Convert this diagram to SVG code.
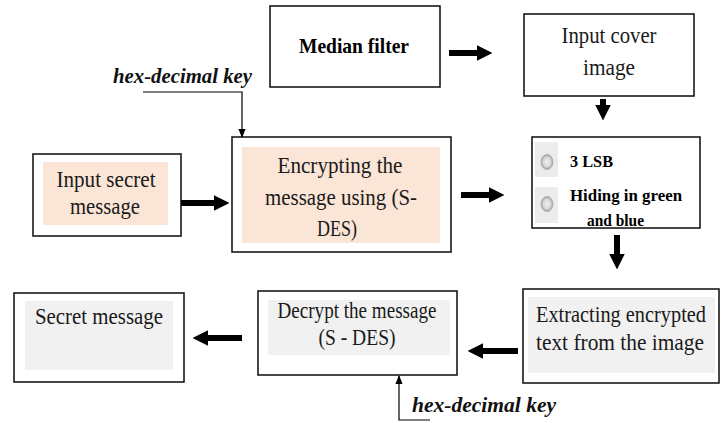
<svg xmlns="http://www.w3.org/2000/svg" width="726" height="423" viewBox="0 0 726 423">
<style>
.box{fill:#fff;stroke:#1a1a1a;stroke-width:1.6}
.peach{fill:#fbe5d7}
.gray{fill:#f1f1f1}
text{font-family:'Liberation Serif','Times New Roman','DejaVu Serif',serif}
.t{font-size:24px;fill:#1a1a1a;text-anchor:middle}
.b{font-weight:bold;fill:#000}
.key{font-weight:bold;font-style:italic;font-size:22px;fill:#111}
.thick{stroke:#000;stroke-width:6;fill:none;marker-end:url(#ah)}
.thin{stroke:#000;stroke-width:1.2;fill:none}
</style>
<defs>
<marker id="ah" viewBox="0 0 10 10" refX="2" refY="5" markerWidth="2.6" markerHeight="2.6" orient="auto" markerUnits="strokeWidth">
<path d="M0,0 L10,5 L0,10 z" fill="#000"/>
</marker>
<marker id="sm" viewBox="0 0 10 10" refX="9" refY="5" markerWidth="9" markerHeight="9" orient="auto" markerUnits="userSpaceOnUse">
<path d="M0,1 L10,5 L0,9 z" fill="#000"/>
</marker>
<radialGradient id="rad" cx="0.5" cy="0.5" r="0.5">
<stop offset="0" stop-color="#f2f2f2"/><stop offset="0.65" stop-color="#d6d6d6"/><stop offset="1" stop-color="#9c9c9c"/>
</radialGradient>
</defs>

<g id="median">
<rect class="box" x="270" y="6" width="170" height="81"/>
<text class="b" x="354" y="53" font-size="22" text-anchor="middle" textLength="110" lengthAdjust="spacingAndGlyphs">Median filter</text>
</g>

<g id="cover">
<rect class="box" x="524" y="14" width="170" height="82"/>
<text class="t" x="609" y="43" textLength="95" lengthAdjust="spacingAndGlyphs">Input cover</text>
<text class="t" x="609" y="75" textLength="52" lengthAdjust="spacingAndGlyphs">image</text>
</g>

<g id="secret-in">
<rect class="box" x="33" y="154" width="148" height="82"/>
<rect class="peach" x="43" y="162" width="125" height="63"/>
<text class="t" x="106" y="187" textLength="99" lengthAdjust="spacingAndGlyphs">Input secret</text>
<text class="t" x="105" y="214" textLength="70" lengthAdjust="spacingAndGlyphs">message</text>
</g>

<g id="encrypt">
<rect class="box" x="232" y="137" width="219" height="115"/>
<rect class="peach" x="242" y="147" width="198" height="96"/>
<text class="t" x="340" y="173" textLength="125" lengthAdjust="spacingAndGlyphs">Encrypting the</text>
<text class="t" x="341" y="205" textLength="152" lengthAdjust="spacingAndGlyphs">message using (S-</text>
<text class="t" x="337" y="236" textLength="40" lengthAdjust="spacingAndGlyphs">DES)</text>
</g>

<g id="lsb">
<rect class="box" x="532" y="137" width="168" height="91"/>
<rect fill="#ececec" x="535" y="142" width="23" height="35"/>
<rect fill="#ececec" x="535" y="187" width="23" height="36"/>
<ellipse cx="547" cy="162" rx="6" ry="7.5" fill="url(#rad)" stroke="#aaa" stroke-width="0.8"/>
<ellipse cx="547" cy="204" rx="6" ry="7.5" fill="url(#rad)" stroke="#aaa" stroke-width="0.8"/>
<text class="b" x="570" y="167" font-size="16" textLength="43" lengthAdjust="spacingAndGlyphs">3 LSB</text>
<text class="b" x="570" y="201" font-size="17" textLength="112" lengthAdjust="spacingAndGlyphs">Hiding in green</text>
<text class="b" x="587" y="226" font-size="17" textLength="57" lengthAdjust="spacingAndGlyphs">and blue</text>
</g>

<g id="extract">
<rect class="box" x="523" y="289" width="196" height="94"/>
<rect class="gray" x="528" y="297" width="187" height="76"/>
<text class="t" x="621" y="322" font-size="21" textLength="170" lengthAdjust="spacingAndGlyphs">Extracting encrypted</text>
<text class="t" x="620" y="350" font-size="21" textLength="168" lengthAdjust="spacingAndGlyphs">text from the image</text>
</g>

<g id="decrypt">
<rect class="box" x="258" y="291" width="199" height="84"/>
<rect class="gray" x="268" y="300" width="182" height="55"/>
<text class="t" x="357" y="318" textLength="159" lengthAdjust="spacingAndGlyphs">Decrypt the message</text>
<text class="t" x="357" y="345" textLength="77" lengthAdjust="spacingAndGlyphs">(S - DES)</text>
</g>

<g id="secret-out">
<rect class="box" x="14" y="293" width="170" height="89"/>
<rect class="gray" x="25" y="301" width="148" height="69"/>
<text class="t" x="99" y="324" textLength="128" lengthAdjust="spacingAndGlyphs">Secret message</text>
</g>

<g id="key-top">
<text class="key" x="113" y="83" textLength="139" lengthAdjust="spacingAndGlyphs">hex-decimal key</text>
</g>
<g id="key-bottom">
<text class="key" x="412" y="412" textLength="144" lengthAdjust="spacingAndGlyphs">hex-decimal key</text>
</g>

<g id="connectors">
<line class="thick" x1="449" y1="53" x2="480" y2="53"/>
<line class="thick" x1="603" y1="99" x2="603" y2="108"/>
<line class="thick" x1="181" y1="203" x2="217" y2="203"/>
<line class="thick" x1="461" y1="195" x2="492" y2="195"/>
<line class="thick" x1="617" y1="235" x2="617" y2="257"/>
<line class="thick" x1="518" y1="351" x2="480" y2="351"/>
<line class="thick" x1="242" y1="338" x2="205" y2="338"/>
<polyline class="thin" points="143,92 242,92 242,137" marker-end="url(#sm)"/>
<polyline class="thin" points="430,420 399,420 399,376" marker-end="url(#sm)"/>
</g>
</svg>
